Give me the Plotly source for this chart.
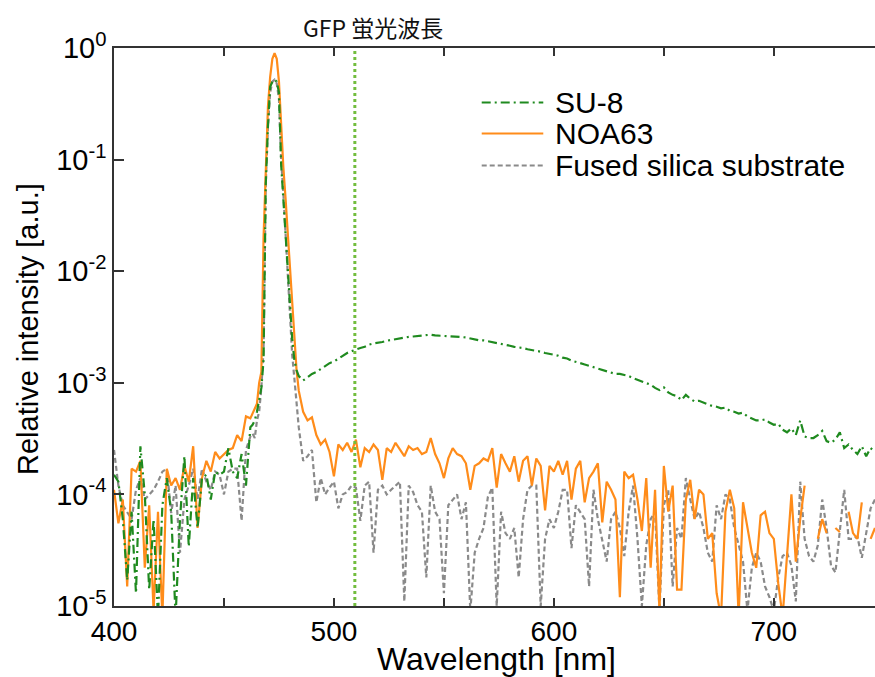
import plotly.graph_objects as go

# ---------------- data ----------------
wavelength = list(range(400, 463, 2)) + list(range(463, 485)) + list(range(486, 747, 2))

# NOA63 (orange)
noa63_blue = [
    1.1e-4, 5.5e-5, 9e-5, 1.5e-5, 1.7e-4, 1.6e-4, 2.0e-4, 2.2e-5, 8e-5, 9e-6,
    7e-5, 8e-6, 1.7e-4, 1.2e-4, 1.4e-4, 1.1e-4, 1.8e-4, 1.3e-4, 2.7e-4, 5e-5,
    1.4e-4, 2.0e-4, 1.6e-4, 2.4e-4, 2.1e-4, 2.3e-4, 2.5e-4, 2.6e-4, 3.4e-4, 3.0e-4,
    5e-4, 4.8e-4,
]
noa63_peak = [
    5.3e-4, 6e-4, 6.5e-4, 1.0e-3, 1.25e-3, 0.02, 0.1, 0.3, 0.55, 0.8,
    0.9, 0.8, 0.5, 0.2, 0.085, 0.045, 0.022, 0.011, 4.5e-3, 2.3e-3,
    1.3e-3, 8.5e-4,
]
noa63_red = [
    5.5e-4, 4.6e-4, 4.9e-4, 3.4e-4, 2.8e-4, 3.1e-4, 2.4e-4, 1.45e-4, 2.8e-4, 2.5e-4,
    2.9e-4, 2.4e-4, 3.1e-4, 1.75e-4, 2.6e-4, 2.4e-4, 2.8e-4, 2.5e-4, 1.35e-4, 2.6e-4,
    2.4e-4, 2.9e-4, 2.5e-4, 2.2e-4, 2.7e-4, 2.5e-4, 2.6e-4, 2.3e-4, 2.4e-4, 3.2e-4,
    2.3e-4, 1.9e-4, 1.4e-4, 2.1e-4, 2.6e-4, 2.3e-4, 2.2e-4, 1.9e-4, 1.1e-4, 1.8e-4,
    1.9e-4, 2.1e-4, 2.0e-4, 2.6e-4, 1.15e-4, 2.3e-4, 1.9e-4, 1.6e-4, 2.2e-4, 1.3e-4,
    2.0e-4, 2.2e-4, 1.2e-4, 2.1e-4, 1.8e-4, 7.2e-5, 1.8e-4, 1.6e-4, 2.0e-4, 1.5e-4,
    2.0e-4, 9e-5, 1.7e-4, 2.0e-4, 8.5e-5, 1.4e-4, 1.6e-4, 1.9e-4, 5.6e-5, 1.3e-4,
    1.1e-4, 9e-5, 1.2e-5, 1.6e-4, 1.4e-4, 1.5e-4, 9e-5, 4.7e-5, 1.4e-4, 2.2e-5,
    1.1e-4, 9e-6, 1.8e-4, 7e-5, 1.2e-4, 1.4e-5, 1.4e-5, 9e-5, 1.35e-4, 6e-5,
    1.1e-4, 1.0e-4, 4e-5, 4.5e-5, 1.3e-5, 8e-6, 7e-5, 1.1e-4, 7.5e-5, 8e-6,
    8.5e-5, 5e-5, 3e-5, 2.2e-5, 6.5e-5, 7e-5, 4.5e-5, 4e-5, 1.6e-5, 8e-6,
    3e-5, 1.0e-4, 2.5e-5, 6e-5, 1.2e-4, None, None, 4e-5, 6e-5, 4.5e-5,
    None, 5e-5, 4.6e-5, None, 7e-5, 4.5e-5, 4e-5, 8.5e-5, None, 4e-5,
    5e-5,
]

# Fused silica substrate (gray)
silica_blue = [
    2.5e-4, 1.2e-4, 8e-5, 7e-5, 6e-5, 1.1e-4, 1.4e-4, 9e-5, 1.0e-4, 1.1e-4,
    1.3e-4, 1.6e-4, 1.7e-4, 6.8e-5, 1.2e-4, 3e-5, 9e-5, 1.2e-4, 1.7e-4, 9e-5,
    1.7e-4, 1.3e-4, 1.1e-4, 1.6e-4, 1.5e-4, 1.0e-4, 1.6e-4, 1.7e-4, 1.7e-4, 5.8e-5,
    2.5e-4, 3.3e-4,
]
silica_peak = [
    3.5e-4, 3.2e-4, 4.6e-4, 5.5e-4, 9e-4, 2e-3, 0.06, 0.2, 0.4, 0.5,
    0.52, 0.48, 0.35, 0.1, 0.05, 0.022, 0.01, 4.5e-3, 1.8e-3, 1.1e-3,
    6e-4, 4e-4,
]
silica_red = [
    2e-4, 2.2e-4, 2.5e-4, 8.5e-5, 1.4e-4, 1.0e-4, 1.15e-4, 1.3e-4, 7.5e-5, 1.0e-4,
    1.05e-4, 1.2e-4, 1.15e-4, 5.8e-5, 1.2e-4, 1.3e-4, 3e-5, 1.1e-4, 1.2e-4, 1.0e-4,
    1.1e-4, 1.2e-4, 1.3e-4, 1.1e-5, 1.2e-4, 1.05e-4, 8e-5, 7e-5, 1.8e-5, 1.2e-4,
    7e-5, 6e-5, 1.3e-5, 8e-5, 9e-5, 1.0e-4, 6e-5, 8.5e-5, 9e-6, 3e-5,
    4e-5, 5e-5, 9.5e-5, 1.15e-4, 1.0e-5, 7e-5, 4.5e-5, 4e-5, 5e-5, 1.8e-5,
    6e-5, 1.1e-4, 1.2e-4, 1.2e-4, 1.0e-5, 4e-5, 6e-5, 5e-5, 7e-5, 1.1e-4,
    1.1e-4, 3.3e-5, 8e-5, 7e-5, 6e-5, 1.5e-5, 1.1e-4, 6e-5, 4e-5, 2.5e-5,
    6e-5, 7e-5, 5e-5, 2.8e-5, 7e-5, 1.2e-4, 4e-5, 1.0e-5, 3.5e-5, 6e-5,
    7e-5, 9e-6, 8e-5, 1.1e-4, 1.5e-5, 5e-5, 4e-5, 1.4e-4, 9e-5, 6e-5,
    7e-5, 5e-5, 3e-5, 2.5e-5, 8e-5, 6e-5, 1.0e-4, 9e-5, 5e-5, 3.5e-5,
    2.5e-5, 9e-6, 2.2e-5, 3e-5, 2.5e-5, 1.5e-5, 1.2e-5, 9e-6, 1.8e-5, 2.8e-5,
    3e-5, 2.3e-5, 1.1e-5, 1.3e-4, 4e-5, 2.8e-5, 2.5e-5, 3.5e-5, 9e-5, 5e-5,
    2.3e-5, 2e-5, 5e-5, 1.1e-4, 4e-5, 4e-5, 4.2e-5, 2.7e-5, 4.5e-5, 7.5e-5,
    9e-5,
]

# SU-8 (green)
su8_blue = [
    1.5e-4, 1.3e-4, 6e-5, 1.7e-5, 7e-5, 1.3e-5, 2.7e-4, 1.0e-4, 1.4e-5, 6e-5,
    8e-6, 8e-5, 1.4e-4, 7e-5, 8e-6, 6e-5, 2.2e-4, 3.4e-5, 1.4e-4, 5e-5,
    1.4e-4, 1.5e-4, 9e-5, 1.6e-4, 1.5e-4, 1.6e-4, 2.6e-4, 1.6e-4, 1.4e-4, 2.3e-4,
    1.2e-4, 4e-4,
]
su8_peak = [
    4.2e-4, 4.6e-4, 5.5e-4, 7e-4, 9e-4, 1.6e-3, 0.06, 0.2, 0.45, 0.5,
    0.52, 0.5, 0.4, 0.09, 0.045, 0.02, 9e-3, 4.5e-3, 2.5e-3, 1.6e-3,
    1.3e-3, 1.15e-3,
]
su8_red = [
    1.05e-3, 1.12e-3, 1.2e-3, 1.25e-3, 1.33e-3, 1.4e-3, 1.5e-3, 1.55e-3, 1.65e-3, 1.75e-3,
    1.85e-3, 1.92e-3, 2.0e-3, 2.05e-3, 2.1e-3, 2.2e-3, 2.25e-3, 2.28e-3, 2.32e-3, 2.38e-3,
    2.42e-3, 2.48e-3, 2.5e-3, 2.55e-3, 2.58e-3, 2.6e-3, 2.62e-3, 2.68e-3, 2.66e-3, 2.7e-3,
    2.66e-3, 2.65e-3, 2.62e-3, 2.64e-3, 2.6e-3, 2.6e-3, 2.57e-3, 2.55e-3, 2.5e-3, 2.45e-3,
    2.4e-3, 2.4e-3, 2.36e-3, 2.32e-3, 2.28e-3, 2.22e-3, 2.2e-3, 2.15e-3, 2.1e-3, 2.08e-3,
    2.05e-3, 2.0e-3, 1.97e-3, 1.95e-3, 1.9e-3, 1.85e-3, 1.82e-3, 1.78e-3, 1.75e-3, 1.68e-3,
    1.65e-3, 1.58e-3, 1.53e-3, 1.5e-3, 1.46e-3, 1.42e-3, 1.38e-3, 1.35e-3, 1.3e-3, 1.27e-3,
    1.25e-3, 1.2e-3, 1.2e-3, 1.17e-3, 1.15e-3, 1.1e-3, 1.06e-3, 1.02e-3, 9.8e-4, 9.6e-4,
    9.0e-4, 8.6e-4, 9.1e-4, 8.2e-4, 7.8e-4, 7.6e-4, 7.0e-4, 7.8e-4, 7.2e-4, 6.8e-4,
    6.9e-4, 6.6e-4, 6.4e-4, 6.2e-4, 6.1e-4, 5.9e-4, 6.0e-4, 5.6e-4, 5.5e-4, 5.3e-4,
    5.4e-4, 5.0e-4, 4.8e-4, 4.6e-4, 4.6e-4, 4.7e-4, 4.4e-4, 4.2e-4, 4.3e-4, 3.8e-4,
    3.6e-4, 3.9e-4, 3.4e-4, 4.6e-4, 3.3e-4, 3.2e-4, 3.2e-4, 3.4e-4, 3.7e-4, 3.0e-4,
    2.9e-4, 3.1e-4, 3.6e-4, 2.6e-4, 2.8e-4, 2.5e-4, 2.3e-4, 2.7e-4, 2.2e-4, 2.6e-4,
    2.4e-4,
]

noa63 = noa63_blue + noa63_peak + noa63_red
silica = silica_blue + silica_peak + silica_red
su8 = su8_blue + su8_peak + su8_red

series_names = ["SU-8", "NOA63", "Fused silica substrate"]
gfp_wavelength = 509.5
gfp_label = "GFP 蛍光波長"

x_tickvals = [400, 500, 600, 700]
x_ticktext = ["400", "500", "600", "700"]
x_minor_tickvals = [450, 550, 650]
y_tickvals = [1e-5, 1e-4, 1e-3, 1e-2, 1e-1, 1]
y_ticktext = ["10<sup>-5</sup>", "10<sup>-4</sup>", "10<sup>-3</sup>",
              "10<sup>-2</sup>", "10<sup>-1</sup>", "10<sup>0</sup>"]

x_title = "Wavelength [nm]"
y_title = "Relative intensity [a.u.]"

# ---------------- styles ----------------
C_SU8 = "#1f8a1f"
C_NOA = "#ff8c1a"
C_SIL = "#8a8a8a"
C_GFP = "#72bd3e"
AX = "#333333"
FONT = "Liberation Sans, Arial, sans-serif"

styles = {
    "SU-8": dict(color=C_SU8, width=2.2, dash="9px,4px,2px,4px"),
    "NOA63": dict(color=C_NOA, width=2.2, dash="solid"),
    "Fused silica substrate": dict(color=C_SIL, width=2.2, dash="5px,3px"),
}

fig = go.Figure()
fig.add_trace(go.Scatter(x=wavelength, y=silica, mode="lines", name=series_names[2],
                         line=styles[series_names[2]], connectgaps=False))
fig.add_trace(go.Scatter(x=wavelength, y=noa63, mode="lines", name=series_names[1],
                         line=styles[series_names[1]], connectgaps=False))
fig.add_trace(go.Scatter(x=wavelength, y=su8, mode="lines", name=series_names[0],
                         line=styles[series_names[0]], connectgaps=False))

# GFP marker line
fig.add_shape(type="line", xref="x", yref="paper", x0=gfp_wavelength, x1=gfp_wavelength,
              y0=0, y1=1, line=dict(color=C_GFP, width=3, dash="dot"), layer="above")
fig.add_annotation(xref="paper", yref="paper", x=0.3403, y=1.0376, text=gfp_label,
                   showarrow=False, xanchor="center", yanchor="middle",
                   font=dict(family="Noto Sans CJK JP", size=23, color="#111111"))

# manual legend (tight row spacing as in the reference)
leg_rows = [0.9023, 0.8468, 0.7894]
for name, yy in zip(series_names, leg_rows):
    st = styles[name]
    fig.add_shape(type="line", xref="paper", yref="paper", x0=0.4832, x1=0.5641,
                  y0=yy, y1=yy, line=dict(color=st["color"], width=st["width"], dash=st["dash"]))
    fig.add_annotation(xref="paper", yref="paper", x=0.5769, y=yy, text=name,
                       showarrow=False, xanchor="left", yanchor="middle",
                       font=dict(family=FONT, size=30, color="black"))

# axis titles
fig.add_annotation(xref="paper", yref="paper", x=0.502, y=-0.095, text=x_title,
                   showarrow=False, xanchor="center", yanchor="middle",
                   font=dict(family=FONT, size=32, color="black"))
fig.add_annotation(xref="paper", yref="paper", x=-0.113, y=0.4964, text=y_title,
                   showarrow=False, xanchor="center", yanchor="middle", textangle=-90,
                   font=dict(family=FONT, size=29, color="black"))

fig.update_layout(
    width=875, height=677,
    margin=dict(l=114, r=0, t=48, b=71, autoexpand=False),
    plot_bgcolor="white", paper_bgcolor="white",
    showlegend=False,
    font=dict(family=FONT, color="black"),
)
fig.update_xaxes(
    range=[400, 746], tickmode="array", tickvals=x_tickvals, ticktext=x_ticktext,
    ticks="inside", ticklen=8, tickwidth=1.5, tickcolor=AX,
    minor=dict(tickmode="array", tickvals=x_minor_tickvals, ticks="inside",
               ticklen=8, tickwidth=1.5, tickcolor=AX, showgrid=False),
    showline=True, linecolor=AX, linewidth=1.5, mirror="allticks",
    showgrid=False, zeroline=False, automargin=False,
    tickfont=dict(family=FONT, size=28, color="black"),
)
fig.update_yaxes(
    type="log", range=[-5, 0], tickmode="array", tickvals=y_tickvals, ticktext=y_ticktext,
    ticks="inside", ticklen=10, tickwidth=1.5, tickcolor=AX,
    showline=True, linecolor=AX, linewidth=1.5, mirror=False,
    showgrid=False, zeroline=False, automargin=False,
    tickfont=dict(family=FONT, size=29, color="black"),
)

fig.write_html(
    "out.html",
    config={"displayModeBar": False},
    post_script="document.body.style.margin='0';document.body.style.overflow='hidden';",
)
